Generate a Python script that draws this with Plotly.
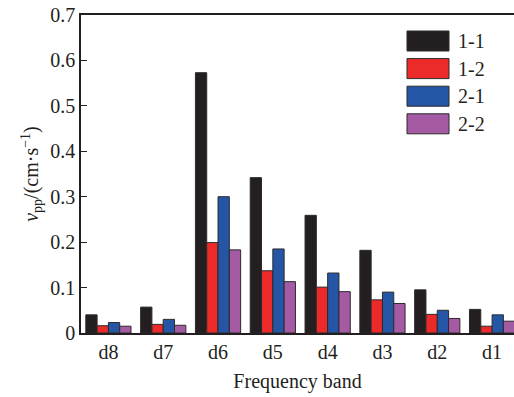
import plotly.graph_objects as go

# Frequency bands (wavelet decomposition levels) and peak particle velocity per case
bands = ["d8", "d7", "d6", "d5", "d4", "d3", "d2", "d1"]
series_names = ["1-1", "1-2", "2-1", "2-2"]
v_11 = [0.040, 0.057, 0.573, 0.342, 0.259, 0.182, 0.095, 0.052]
v_12 = [0.016, 0.019, 0.199, 0.137, 0.101, 0.073, 0.041, 0.015]
v_21 = [0.023, 0.030, 0.300, 0.185, 0.132, 0.090, 0.050, 0.040]
v_22 = [0.015, 0.017, 0.183, 0.113, 0.091, 0.065, 0.032, 0.026]
series_values = [v_11, v_12, v_21, v_22]
colors = ["#231f20", "#ed2a2a", "#2456a5", "#a55ba3"]

ytick_vals = [0, 0.1, 0.2, 0.3, 0.4, 0.5, 0.6, 0.7]
ytick_text = ["0", "0.1", "0.2", "0.3", "0.4", "0.5", "0.6", "0.7"]

FONT = "Liberation Serif, Times New Roman, serif"
W, H = 514, 397
ML, MT, MB, MR = 81, 15, 64, 0

fig = go.Figure()
for name, vals, col in zip(series_names, series_values, colors):
    fig.add_trace(go.Bar(
        x=bands, y=vals, name=name,
        marker=dict(color=col, line=dict(color="#2b2b2b", width=1)),
        showlegend=False,
    ))

# Hand-built legend with wide swatches
plot_w = W - ML - MR
plot_h = H - MT - MB
def px_x(p):
    return (p - ML) / plot_w
def px_y(p):
    return (H - MB - p) / plot_h

row0, row_step = 41, 27.6
for i, (name, col) in enumerate(zip(series_names, colors)):
    cy = row0 + i * row_step
    fig.add_shape(type="rect", xref="paper", yref="paper",
                  x0=px_x(407), x1=px_x(449), y0=px_y(cy + 10), y1=px_y(cy - 10),
                  fillcolor=col, line=dict(color="#2b2b2b", width=1))
    fig.add_annotation(xref="paper", yref="paper", x=px_x(456), y=px_y(cy),
                       text=name, showarrow=False, xanchor="left", yanchor="middle",
                       font=dict(family=FONT, size=20, color="#231f20"))

fig.update_layout(
    width=W, height=H,
    margin=dict(l=ML, r=MR, t=MT, b=MB, pad=0),
    paper_bgcolor="white", plot_bgcolor="white",
    barmode="group", bargap=0.175, bargroupgap=0,
    font=dict(family=FONT, size=20, color="#231f20"),
    xaxis=dict(
        range=[-0.5, 7.4], showline=True, linecolor="#231f20", linewidth=1.5,
        mirror=True, ticks="", showgrid=False, zeroline=False,
        tickfont=dict(family=FONT, size=20, color="#231f20"),
        title=dict(text="Frequency band", font=dict(family=FONT, size=20, color="#231f20"),
                   standoff=12),
    ),
    yaxis=dict(
        range=[0, 0.7], tickvals=ytick_vals, ticktext=ytick_text,
        showline=True, linecolor="#231f20", linewidth=1.5, mirror=False,
        ticks="inside", ticklen=6, tickwidth=1.2, tickcolor="#231f20",
        showgrid=False, zeroline=False,
        tickfont=dict(family=FONT, size=20, color="#231f20"),
        title=dict(text="<i>v</i><sub>pp</sub>/(cm·s<sup>−1</sup>)",
                   font=dict(family=FONT, size=20, color="#231f20"), standoff=6),
    ),
)

fig.write_html("out.html")
